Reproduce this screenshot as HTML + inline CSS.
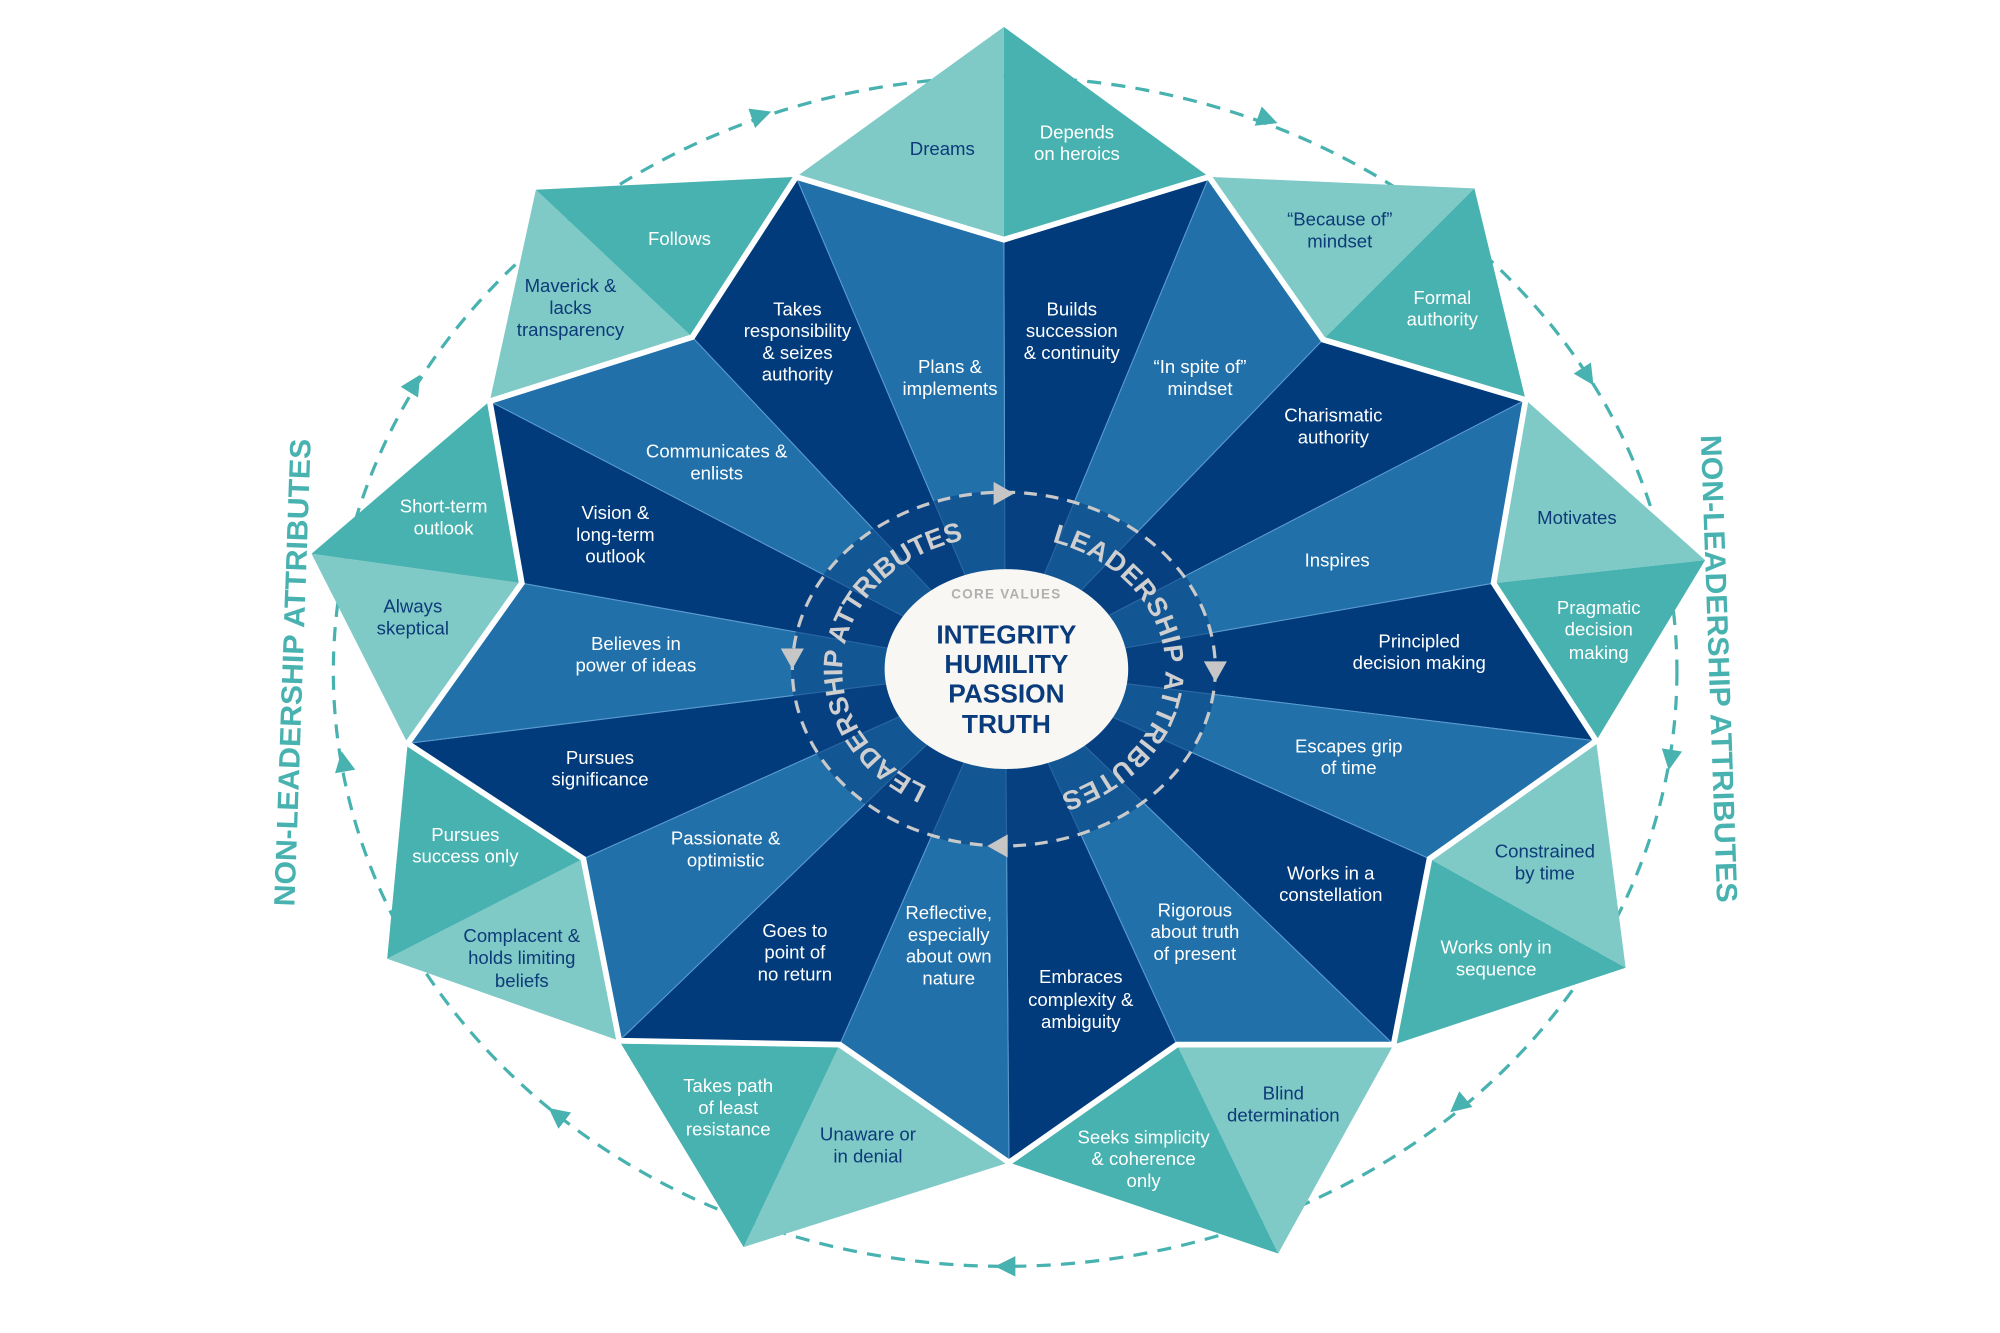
<!DOCTYPE html>
<html><head><meta charset="utf-8">
<style>
html,body{margin:0;padding:0;background:#fff;}
svg{display:block;}
text{font-family:"Liberation Sans",sans-serif;}
.w{fill:#fff;font-size:14.5px;text-anchor:middle;}
.n{fill:#0d3a78;font-size:14.5px;text-anchor:middle;}
</style></head>
<body>
<svg width="2000" height="1333" viewBox="0 0 1560 1040" preserveAspectRatio="none" xmlns="http://www.w3.org/2000/svg">
<rect width="1560" height="1040" fill="#fff"/>
<ellipse cx="784" cy="524" rx="524" ry="464" fill="none" stroke="#47b2af" stroke-width="2.5" stroke-dasharray="11 8"/>
<g fill="#47b2af">
<g transform="translate(593,90) rotate(-19)"><polygon points="9,0 -7,-8 -7,8"/></g>
<g transform="translate(988,93) rotate(20)"><polygon points="9,0 -7,-8 -7,8"/></g>
<g transform="translate(1238,293) rotate(57)"><polygon points="9,0 -7,-8 -7,8"/></g>
<g transform="translate(1303,592) rotate(99)"><polygon points="9,0 -7,-8 -7,8"/></g>
<g transform="translate(1138,862) rotate(140)"><polygon points="9,0 -7,-8 -7,8"/></g>
<g transform="translate(785,988) rotate(180)"><polygon points="9,0 -7,-8 -7,8"/></g>
<g transform="translate(435,870) rotate(218)"><polygon points="9,0 -7,-8 -7,8"/></g>
<g transform="translate(268,595) rotate(260)"><polygon points="9,0 -7,-8 -7,8"/></g>
<g transform="translate(323,300) rotate(302)"><polygon points="9,0 -7,-8 -7,8"/></g>
</g>
<g>
<polygon points="621,138 783,21 783,187" fill="#7fcac7"/>
<polygon points="783,21 943,138 783,187" fill="#47b2af"/>
<polygon points="943,138 1150,147 1032,265" fill="#7fcac7"/>
<polygon points="1150,147 1190,312 1032,265" fill="#47b2af"/>
<polygon points="1190,312 1330,437 1165,455" fill="#7fcac7"/>
<polygon points="1330,437 1245,578 1165,455" fill="#47b2af"/>
<polygon points="1245,578 1268,755 1115,670" fill="#7fcac7"/>
<polygon points="1268,755 1087,815 1115,670" fill="#47b2af"/>
<polygon points="1087,815 997,978 918,815" fill="#7fcac7"/>
<polygon points="997,978 787,907 918,815" fill="#47b2af"/>
<polygon points="787,907 580,973 655,815" fill="#7fcac7"/>
<polygon points="580,973 483,812 655,815" fill="#47b2af"/>
<polygon points="483,812 302,748 455,670" fill="#7fcac7"/>
<polygon points="302,748 318,580 455,670" fill="#47b2af"/>
<polygon points="318,580 243,432 407,455" fill="#7fcac7"/>
<polygon points="243,432 382,313 407,455" fill="#47b2af"/>
<polygon points="382,313 418,148 540,263" fill="#7fcac7"/>
<polygon points="418,148 621,138 540,263" fill="#47b2af"/>
</g>
<g stroke="#5b9bd0" stroke-width="0.8">
<polygon points="784,522 783,187 943,138" fill="#013b7b"/>
<polygon points="784,522 943,138 1032,265" fill="#2170aa"/>
<polygon points="784,522 1032,265 1190,312" fill="#013b7b"/>
<polygon points="784,522 1190,312 1165,455" fill="#2170aa"/>
<polygon points="784,522 1165,455 1245,578" fill="#013b7b"/>
<polygon points="784,522 1245,578 1115,670" fill="#2170aa"/>
<polygon points="784,522 1115,670 1087,815" fill="#013b7b"/>
<polygon points="784,522 1087,815 918,815" fill="#2170aa"/>
<polygon points="784,522 918,815 787,907" fill="#013b7b"/>
<polygon points="784,522 787,907 655,815" fill="#2170aa"/>
<polygon points="784,522 655,815 483,812" fill="#013b7b"/>
<polygon points="784,522 483,812 455,670" fill="#2170aa"/>
<polygon points="784,522 455,670 318,580" fill="#013b7b"/>
<polygon points="784,522 318,580 407,455" fill="#2170aa"/>
<polygon points="784,522 407,455 382,313" fill="#013b7b"/>
<polygon points="784,522 382,313 540,263" fill="#2170aa"/>
<polygon points="784,522 540,263 621,138" fill="#013b7b"/>
<polygon points="784,522 621,138 783,187" fill="#2170aa"/>
</g>
<polygon points="783,187 943,138 1032,265 1190,312 1165,455 1245,578 1115,670 1087,815 918,815 787,907 655,815 483,812 455,670 318,580 407,455 382,313 540,263 621,138" fill="none" stroke="#fff" stroke-width="4.5" stroke-linejoin="miter"/>
<ellipse cx="783" cy="522" rx="166" ry="139" fill="#0a4585" opacity="0.6"/>
<ellipse cx="783" cy="522" rx="165" ry="138" fill="none" stroke="#c9c9c9" stroke-width="2.5" stroke-dasharray="10 7"/>
<g fill="#c6c6c6">
<polygon points="791,385 775,376 775,394"/>
<polygon points="948,532 939,516 957,516"/>
<polygon points="770,660 786,651 786,669"/>
<polygon points="618,522 609,506 627,506"/>
</g>
<defs>
<path id="tp" d="M 783 418 A 126 104 0 1 1 783 626 A 126 104 0 1 1 783 418 A 126 104 0 1 1 783 626 A 126 104 0 1 1 783 418"/>
</defs>
<text font-size="21" font-weight="bold" fill="#cfcfcf" letter-spacing="1"><textPath href="#tp" startOffset="38" textLength="280" lengthAdjust="spacing">LEADERSHIP ATTRIBUTES</textPath></text>
<text font-size="21" font-weight="bold" fill="#cfcfcf" letter-spacing="1"><textPath href="#tp" startOffset="423" textLength="270" lengthAdjust="spacing">LEADERSHIP ATTRIBUTES</textPath></text>
<ellipse cx="785" cy="522" rx="95" ry="78" fill="#f8f7f3"/>
<text x="785" y="467" font-size="10.5" font-weight="bold" fill="#b0b0b0" text-anchor="middle" letter-spacing="1">CORE VALUES</text>
<g font-size="20.5" font-weight="bold" fill="#0a3b7c" text-anchor="middle">
<text x="785" y="502">INTEGRITY</text>
<text x="785" y="525">HUMILITY</text>
<text x="785" y="548">PASSION</text>
<text x="785" y="572">TRUTH</text>
</g>
<text transform="translate(236,525) rotate(-88)" font-size="23" font-weight="bold" fill="#47b2af" text-anchor="middle" textLength="365" lengthAdjust="spacingAndGlyphs">NON-LEADERSHIP ATTRIBUTES</text>
<text transform="translate(1333,522) rotate(88)" font-size="23" font-weight="bold" fill="#47b2af" text-anchor="middle" textLength="365" lengthAdjust="spacingAndGlyphs">NON-LEADERSHIP ATTRIBUTES</text>
<text class="n" x="735" y="121">Dreams</text>
<text class="w" x="840" y="108">Depends</text><text class="w" x="840" y="125">on heroics</text>
<text class="n" x="1045" y="176">“Because of”</text><text class="n" x="1045" y="193">mindset</text>
<text class="w" x="1125" y="237">Formal</text><text class="w" x="1125" y="254">authority</text>
<text class="n" x="1230" y="409">Motivates</text>
<text class="w" x="1247" y="479">Pragmatic</text><text class="w" x="1247" y="496">decision</text><text class="w" x="1247" y="514">making</text>
<text class="n" x="1205" y="669">Constrained</text><text class="n" x="1205" y="686">by time</text>
<text class="w" x="1167" y="744">Works only in</text><text class="w" x="1167" y="761">sequence</text>
<text class="n" x="1001" y="858">Blind</text><text class="n" x="1001" y="875">determination</text>
<text class="w" x="892" y="892">Seeks simplicity</text><text class="w" x="892" y="909">&amp; coherence</text><text class="w" x="892" y="926">only</text>
<text class="n" x="677" y="890">Unaware or</text><text class="n" x="677" y="907">in denial</text>
<text class="w" x="568" y="852">Takes path</text><text class="w" x="568" y="869">of least</text><text class="w" x="568" y="886">resistance</text>
<text class="n" x="407" y="735">Complacent &amp;</text><text class="n" x="407" y="752">holds limiting</text><text class="n" x="407" y="770">beliefs</text>
<text class="w" x="363" y="656">Pursues</text><text class="w" x="363" y="673">success only</text>
<text class="n" x="322" y="478">Always</text><text class="n" x="322" y="495">skeptical</text>
<text class="w" x="346" y="400">Short-term</text><text class="w" x="346" y="417">outlook</text>
<text class="n" x="445" y="228">Maverick &amp;</text><text class="n" x="445" y="245">lacks</text><text class="n" x="445" y="262">transparency</text>
<text class="w" x="530" y="191">Follows</text>
<text class="w" x="836" y="246">Builds</text><text class="w" x="836" y="263">succession</text><text class="w" x="836" y="280">&amp; continuity</text>
<text class="w" x="936" y="291">“In spite of”</text><text class="w" x="936" y="308">mindset</text>
<text class="w" x="1040" y="329">Charismatic</text><text class="w" x="1040" y="346">authority</text>
<text class="w" x="1043" y="442">Inspires</text>
<text class="w" x="1107" y="505">Principled</text><text class="w" x="1107" y="522">decision making</text>
<text class="w" x="1052" y="587">Escapes grip</text><text class="w" x="1052" y="604">of time</text>
<text class="w" x="1038" y="686">Works in a</text><text class="w" x="1038" y="703">constellation</text>
<text class="w" x="932" y="715">Rigorous</text><text class="w" x="932" y="732">about truth</text><text class="w" x="932" y="749">of present</text>
<text class="w" x="843" y="767">Embraces</text><text class="w" x="843" y="785">complexity &amp;</text><text class="w" x="843" y="802">ambiguity</text>
<text class="w" x="740" y="717">Reflective,</text><text class="w" x="740" y="734">especially</text><text class="w" x="740" y="751">about own</text><text class="w" x="740" y="768">nature</text>
<text class="w" x="620" y="731">Goes to</text><text class="w" x="620" y="748">point of</text><text class="w" x="620" y="765">no return</text>
<text class="w" x="566" y="659">Passionate &amp;</text><text class="w" x="566" y="676">optimistic</text>
<text class="w" x="468" y="596">Pursues</text><text class="w" x="468" y="613">significance</text>
<text class="w" x="496" y="507">Believes in</text><text class="w" x="496" y="524">power of ideas</text>
<text class="w" x="480" y="405">Vision &amp;</text><text class="w" x="480" y="422">long-term</text><text class="w" x="480" y="439">outlook</text>
<text class="w" x="559" y="357">Communicates &amp;</text><text class="w" x="559" y="374">enlists</text>
<text class="w" x="622" y="246">Takes</text><text class="w" x="622" y="263">responsibility</text><text class="w" x="622" y="280">&amp; seizes</text><text class="w" x="622" y="297">authority</text>
<text class="w" x="741" y="291">Plans &amp;</text><text class="w" x="741" y="308">implements</text>
</svg>
</body></html>
